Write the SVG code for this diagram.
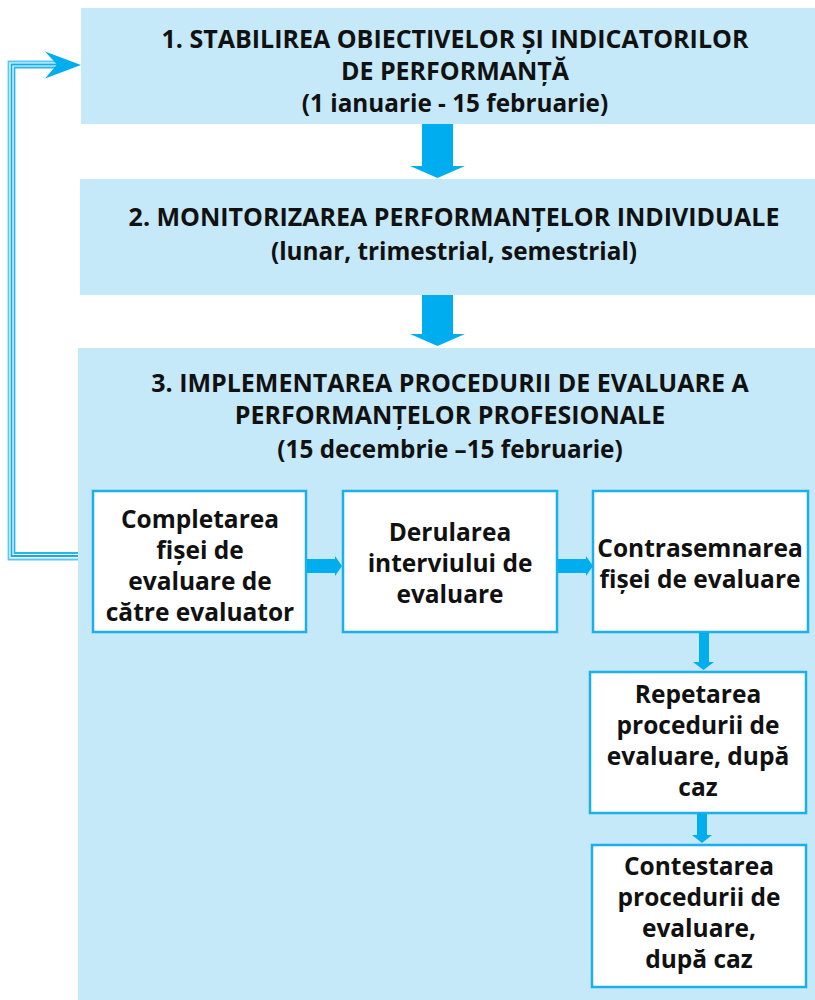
<svg xmlns="http://www.w3.org/2000/svg" width="815" height="1000" viewBox="0 0 815 1000">
<style>
.stage{fill:#c6e9f9}
.box{fill:#ffffff;stroke:#1ab0ec;stroke-width:2.5}
.arrow{fill:#00aeef}
text{font-family:"Open Sans",Lato,"Liberation Sans",sans-serif;font-weight:bold;font-size:25px;fill:#111;text-anchor:middle}
.sub{font-size:24.3px}
.in{font-size:24.5px}
.line{fill:none;stroke-width:1.8}
</style>
<rect width="815" height="1000" fill="#ffffff"/>
<g id="stage1">
<rect class="stage" x="81" y="8" width="734" height="116"/>
<text x="455" y="48">1. STABILIREA OBIECTIVELOR ȘI INDICATORILOR</text>
<text x="455" y="80">DE PERFORMANȚĂ</text>
<text class="sub" x="455" y="112">(1 ianuarie - 15 februarie)</text>
</g>
<g id="stage2">
<rect class="stage" x="80" y="179" width="735" height="116"/>
<text x="454" y="226">2. MONITORIZAREA PERFORMANȚELOR INDIVIDUALE</text>
<text class="sub" x="454" y="260">(lunar, trimestrial, semestrial)</text>
</g>
<g id="stage3">
<rect class="stage" x="78" y="348" width="737" height="652"/>
<text x="450" y="392">3. IMPLEMENTAREA PROCEDURII DE EVALUARE A</text>
<text x="450" y="424">PERFORMANȚELOR PROFESIONALE</text>
<text class="sub" x="450" y="458">(15 decembrie –15 februarie)</text>
</g>
<g id="completare">
<rect class="box" x="93" y="491" width="213" height="141"/>
<text class="in" x="200" y="528">Completarea</text>
<text class="in" x="200" y="559">fișei de</text>
<text class="in" x="200" y="590">evaluare de</text>
<text class="in" x="200" y="621">către evaluator</text>
</g>
<g id="derulare">
<rect class="box" x="343" y="491" width="214" height="141"/>
<text class="in" x="450" y="541">Derularea</text>
<text class="in" x="450" y="572">interviului de</text>
<text class="in" x="450" y="603">evaluare</text>
</g>
<g id="contrasemnare">
<rect class="box" x="593" y="491" width="215" height="141"/>
<text class="in" x="700" y="557">Contrasemnarea</text>
<text class="in" x="700" y="588">fișei de evaluare</text>
</g>
<g id="repetare">
<rect class="box" x="590" y="672" width="216" height="141"/>
<text class="in" x="698" y="703">Repetarea</text>
<text class="in" x="698" y="734">procedurii de</text>
<text class="in" x="698" y="765">evaluare, după</text>
<text class="in" x="698" y="796">caz</text>
</g>
<g id="contestare">
<rect class="box" x="592" y="845" width="214" height="142"/>
<text class="in" x="699" y="875">Contestarea</text>
<text class="in" x="699" y="906">procedurii de</text>
<text class="in" x="699" y="937">evaluare,</text>
<text class="in" x="699" y="968">după caz</text>
</g>
<g id="connectors">
<polygon class="arrow" points="422,124 453,124 453,166 465,166 437.5,178 410,166 422,166"/>
<polygon class="arrow" points="422,295 453,295 453,334 465,334 437.5,346 410,334 422,334"/>
<polygon class="arrow" points="307,559 335,559 335,556 342,566 335,576 335,573 307,573"/>
<polygon class="arrow" points="558,559 586,559 586,556 593,566 586,576 586,573 558,573"/>
<polygon class="arrow" points="699,633 709,633 709,662 714,662 703.5,670 693,662 699,662"/>
<polygon class="arrow" points="697,814 707,814 707,835 712,835 702,843 692,835 697,835"/>
<polyline class="line" stroke="#5ac8f2" points="78,559.5 8.5,559.5 8.5,61.5 60,61.5"/>
<polyline class="line" stroke="#12aeec" points="78,556 11.5,556 11.5,64.5 60,64.5"/>
<polyline class="line" stroke="#29b6ee" points="78,553 14.5,553 14.5,67.5 60,67.5"/>
<polygon class="arrow" points="81,65 45,51.5 57,64.5 45,78.5"/>
</g>
</svg>
